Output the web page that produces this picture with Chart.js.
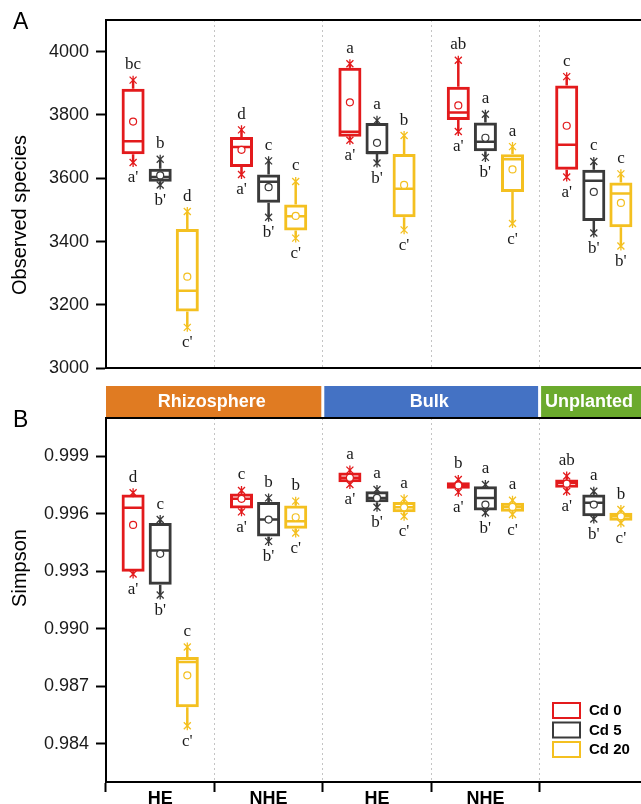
<!DOCTYPE html>
<html>
<head>
<meta charset="utf-8">
<script src="https://cdn.jsdelivr.net/npm/chart.js@4"></script>
<style>
  html, body { margin: 0; padding: 0; background: #fff; overflow: hidden; width: 641px; height: 804px; }
  #wrap { position: relative; width: 641px; height: 804px; overflow: hidden; }
  canvas { position: absolute; left: 0; }
  #chartA { top: 0; }
  #chartB { top: 386px; }
</style>
</head>
<body>
<div id="wrap">
  <canvas id="chartA" width="660" height="386"></canvas>
  <canvas id="chartB" width="660" height="418"></canvas>
</div>
<script>
const groups = ['HE', 'NHE', 'HE', 'NHE', ''];
const treatments = ['Cd 0', 'Cd 5', 'Cd 20'];
const colors = ['#E31A1C', '#3A3A3A', '#F4C020'];
const zones = ['Rhizosphere', 'Bulk', 'Unplanted'];
const zoneSpan = [[0, 1], [2, 3], [4, 4]];
const zoneColors = ['#E07B22', '#4472C4', '#6BAA2D'];

// A: observed species (rows = Cd 0, Cd 5, Cd 20)
const obsTicks = [3000, 3200, 3400, 3600, 3800, 4000];
const obsMax  = [[3910, 3753, 3962, 3973, 3921], [3660, 3655, 3783, 3802, 3653], [3495, 3590, 3735, 3700, 3614]];
const obsQ3   = [[3883, 3730, 3949, 3889, 3893], [3630, 3612, 3775, 3776, 3627], [3440, 3517, 3677, 3676, 3587]];
const obsMed  = [[3717, 3699, 3747, 3808, 3706], [3604, 3589, 3680, 3715, 3592], [3245, 3480, 3567, 3660, 3552]];
const obsQ1   = [[3676, 3636, 3731, 3784, 3627], [3589, 3523, 3677, 3685, 3465], [3179, 3435, 3477, 3557, 3445]];
const obsMin  = [[3650, 3612, 3720, 3748, 3604], [3579, 3477, 3648, 3666, 3427], [3129, 3411, 3437, 3457, 3386]];
const obsMean = [[3779, 3690, 3840, 3830, 3766], [3609, 3572, 3712, 3728, 3557], [3289, 3481, 3579, 3628, 3522]];
const obsTop  = [['bc', 'd', 'a', 'ab', 'c'], ['b', 'c', 'a', 'a', 'c'], ['d', 'c', 'b', 'a', 'c']];
const obsBot  = [["a'", "a'", "a'", "a'", "a'"], ["b'", "b'", "b'", "b'", "b'"], ["c'", "c'", "c'", "c'", "b'"]];

// B: Simpson
const simTicks = [0.984, 0.987, 0.990, 0.993, 0.996, 0.999];
const simMax  = [[0.99710, 0.99722, 0.99828, 0.99779, 0.99797], [0.99570, 0.99683, 0.99727, 0.99753, 0.99718], [0.98905, 0.99666, 0.99678, 0.99671, 0.99622]];
const simQ3   = [[0.99701, 0.99706, 0.99815, 0.99765, 0.99779], [0.99552, 0.99662, 0.99718, 0.99744, 0.99701], [0.98853, 0.99643, 0.99662, 0.99657, 0.99605]];
const simMed  = [[0.99631, 0.99678, 0.99788, 0.99748, 0.99762], [0.99409, 0.99570, 0.99683, 0.99683, 0.99657], [0.98826, 0.99561, 0.99634, 0.99636, 0.99587]];
const simQ1   = [[0.99298, 0.99627, 0.99765, 0.99731, 0.99736], [0.99229, 0.99482, 0.99660, 0.99617, 0.99587], [0.98590, 0.99522, 0.99608, 0.99610, 0.99564]];
const simMin  = [[0.99286, 0.99610, 0.99753, 0.99713, 0.99718], [0.99176, 0.99456, 0.99634, 0.99605, 0.99573], [0.98494, 0.99500, 0.99587, 0.99596, 0.99552]];
const simMean = [[0.99542, 0.99678, 0.99788, 0.99748, 0.99757], [0.99391, 0.99570, 0.99683, 0.99648, 0.99648], [0.98757, 0.99582, 0.99634, 0.99636, 0.99587]];
const simTop  = [['d', 'c', 'a', 'b', 'ab'], ['c', 'b', 'a', 'a', 'a'], ['c', 'b', 'a', 'a', 'b']];
const simBot  = [["a'", "a'", "a'", "a'", "a'"], ["b'", "b'", "b'", "b'", "b'"], ["c'", "c'", "c'", "c'", "c'"]];

const FONT = "'Liberation Sans', Arial, sans-serif";
const SERIF = "'Liberation Serif', 'Times New Roman', serif";

function boxDatasets(st) {
    return treatments.map((t, i) => ({
        label: t,
        data: st.q1[i].map((v, j) => [v, st.q3[i][j]]),
        stats: { min: st.min[i], max: st.max[i], med: st.med[i], mean: st.mean[i], top: st.top[i], bottom: st.bottom[i] },
        backgroundColor: 'rgba(0,0,0,0)',
        borderColor: colors[i],
        borderWidth: 3,
        borderSkipped: false,
        barPercentage: 0.85,
        categoryPercentage: 0.75
    }));
}

function star(ctx, x, y) {
    ctx.beginPath();
    ctx.moveTo(x - 3.5, y - 3.5); ctx.lineTo(x + 3.5, y + 3.5);
    ctx.moveTo(x + 3.5, y - 3.5); ctx.lineTo(x - 3.5, y + 3.5);
    ctx.moveTo(x, y - 4.5); ctx.lineTo(x, y + 4.5);
    ctx.stroke();
}

// whiskers, medians, means and letters on top of the floating bars
const boxPlugin = {
    id: 'boxes',
    afterDatasetsDraw(chart) {
        const ctx = chart.ctx;
        const y = chart.scales.y;
        chart.data.datasets.forEach((ds, i) => {
            const s = ds.stats;
            chart.getDatasetMeta(i).data.forEach((bar, j) => {
                const x = bar.x, hw = bar.width / 2;
                const yTop = y.getPixelForValue(ds.data[j][1]);
                const yBot = y.getPixelForValue(ds.data[j][0]);
                const yMax = y.getPixelForValue(s.max[j]);
                const yMin = y.getPixelForValue(s.min[j]);
                const yMed = y.getPixelForValue(s.med[j]);
                const yMean = y.getPixelForValue(s.mean[j]);
                ctx.save();
                ctx.strokeStyle = ds.borderColor;
                ctx.lineWidth = 2.5;
                ctx.beginPath();
                ctx.moveTo(x, yTop); ctx.lineTo(x, yMax);
                ctx.moveTo(x, yBot); ctx.lineTo(x, yMin);
                ctx.moveTo(x - hw + 1, yMed); ctx.lineTo(x + hw - 1, yMed);
                ctx.stroke();
                ctx.lineWidth = 1.3;
                star(ctx, x, yMax);
                star(ctx, x, yMin);
                ctx.beginPath();
                ctx.arc(x, yMean, 3.5, 0, Math.PI * 2);
                ctx.fillStyle = '#fff';
                ctx.fill();
                ctx.lineWidth = 1.2;
                ctx.stroke();
                ctx.fillStyle = '#1a1a1a';
                ctx.font = `17px ${SERIF}`;
                ctx.textAlign = 'center';
                ctx.textBaseline = 'alphabetic';
                ctx.fillText(s.top[j], x, yMax - 11);
                ctx.fillText(s.bottom[j], x, yMin + 20);
                ctx.restore();
            });
        });
    }
};

function drawBand(chart) {
    const { ctx, chartArea: a, scales: { x } } = chart;
    const step = x.width / groups.length;
    ctx.save();
    zones.forEach((z, k) => {
        const [g0, g1] = zoneSpan[k];
        const left = x.left + g0 * step + (g0 > 0 ? 1.5 : 0);
        const right = x.left + (g1 + 1) * step - 1.5;
        ctx.fillStyle = zoneColors[k];
        ctx.fillRect(left, a.top - 32, right - left, 31);
        ctx.fillStyle = '#fff';
        ctx.font = `bold 18px ${FONT}`;
        ctx.textAlign = 'center';
        ctx.textBaseline = 'middle';
        ctx.fillText(z, (left + Math.min(right, 641)) / 2 - 2, a.top - 16);
    });
    ctx.restore();
}

function drawLegend(chart) {
    const { ctx, chartArea: a } = chart;
    const lx = a.right - 95, ly = a.bottom - 79;
    ctx.save();
    chart.data.datasets.forEach((ds, i) => {
        const yy = ly + i * 19.5;
        ctx.strokeStyle = ds.borderColor;
        ctx.lineWidth = 2;
        ctx.strokeRect(lx, yy, 27, 15);
        ctx.fillStyle = '#000';
        ctx.font = `bold 15px ${FONT}`;
        ctx.textAlign = 'left';
        ctx.textBaseline = 'middle';
        ctx.fillText(ds.label, lx + 36, yy + 8);
    });
    ctx.restore();
}

const panelPlugin = {
    id: 'panel',
    afterDraw(chart, args, o) {
        const { ctx, chartArea: a } = chart;
        ctx.save();
        ctx.strokeStyle = '#000';
        ctx.lineWidth = 2;
        ctx.beginPath();
        ctx.moveTo(a.left - 1, a.top);
        ctx.lineTo(a.right, a.top);
        ctx.stroke();
        ctx.fillStyle = '#000';
        ctx.font = `23px ${FONT}`;
        ctx.textAlign = 'left';
        ctx.textBaseline = 'alphabetic';
        ctx.fillText(o.letter, 13, o.letterY);
        ctx.translate(20, o.titleY);
        ctx.rotate(-Math.PI / 2);
        ctx.font = `20px ${FONT}`;
        ctx.textAlign = 'center';
        ctx.textBaseline = 'middle';
        ctx.fillText(o.title, 0, 0);
        ctx.restore();
        if (o.band) drawBand(chart);
        if (o.legend) drawLegend(chart);
    }
};

function makeChart(id, st, yMin, yMax, ticks, fmt, showX, panel) {
    return new Chart(document.getElementById(id), {
        type: 'bar',
        data: { labels: groups, datasets: boxDatasets(st) },
        options: {
            responsive: false,
            animation: false,
            layout: { padding: { top: showX ? 32 : 20, right: 12, left: 0, bottom: 0 } },
            plugins: { legend: { display: false }, tooltip: { enabled: false }, panel },
            scales: {
                x: {
                    offset: true,
                    grid: {
                        display: true, offset: true, drawOnChartArea: true,
                        color: '#C4C4C4', lineWidth: 1,
                        drawTicks: showX, tickLength: 10, tickColor: '#000', tickWidth: 2, tickBorderDash: []
                    },
                    border: { display: true, color: '#000', width: 2, dash: [2, 3] },
                    ticks: { display: showX, font: { family: FONT, size: 18, weight: 'bold' }, color: '#000', padding: -4 },
                    afterFit: s => { s.height = showX ? 22 : 2; }
                },
                y: {
                    min: yMin,
                    max: yMax,
                    afterBuildTicks: s => { s.ticks = ticks.map(v => ({ value: v })); },
                    afterFit: s => { s.width = 106; },
                    ticks: { callback: v => fmt(v), font: { family: FONT, size: 18 }, color: '#1a1a1a', padding: 7 },
                    grid: { drawOnChartArea: false, drawTicks: true, tickLength: 10, color: '#000', tickColor: '#000', tickWidth: 2 },
                    border: { display: true, color: '#000', width: 2 }
                }
            }
        },
        plugins: [boxPlugin, panelPlugin]
    });
}

makeChart('chartA',
    { max: obsMax, q3: obsQ3, med: obsMed, q1: obsQ1, min: obsMin, mean: obsMean, top: obsTop, bottom: obsBot },
    3000, 4100, obsTicks, v => String(v), false,
    { letter: 'A', letterY: 29, title: 'Observed species', titleY: 215, band: false, legend: false });

makeChart('chartB',
    { max: simMax, q3: simQ3, med: simMed, q1: simQ1, min: simMin, mean: simMean, top: simTop, bottom: simBot },
    0.982, 1.001, simTicks, v => v.toFixed(3), true,
    { letter: 'B', letterY: 41, title: 'Simpson', titleY: 182, band: true, legend: true });
</script>
</body>
</html>
